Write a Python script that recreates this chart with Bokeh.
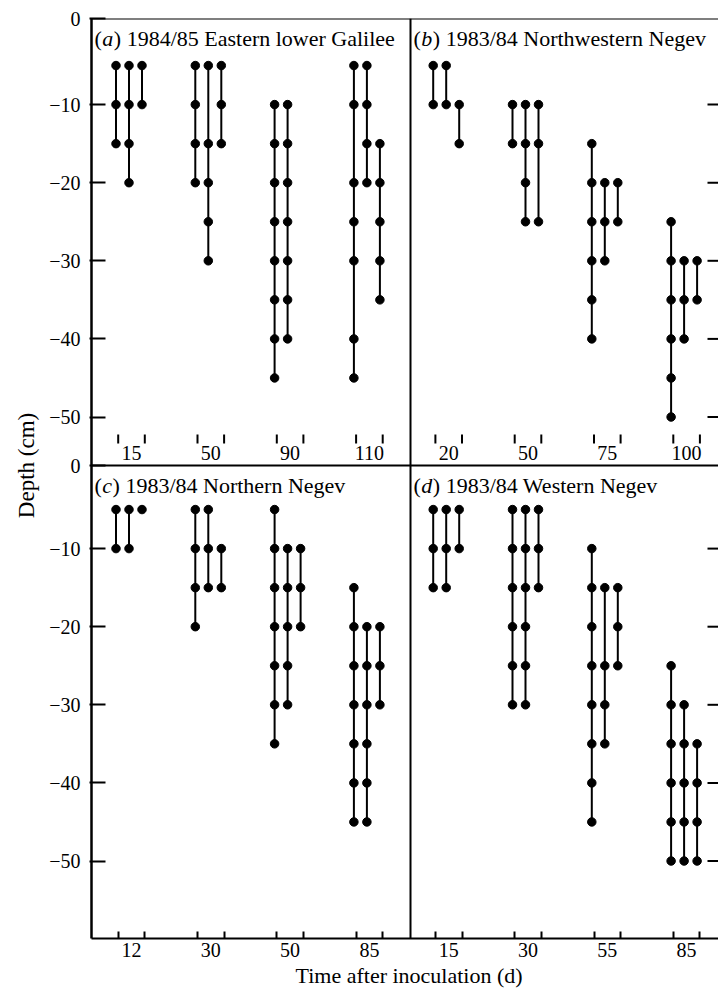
from bokeh.plotting import figure
from bokeh.models import FixedTicker, Span, Title, ColumnDataSource
from bokeh.core.properties import value
from bokeh.embed import file_html
from bokeh.resources import INLINE

# ---------------- data (depth in cm of each sampled point, per profile) ----------------
a_title = ["a", "1984/85 Eastern lower Galilee"]
a_days = [15, 50, 90, 110]
a_profiles = [
    [[-5, -10, -15], [-5, -10, -15, -20], [-5, -10]],
    [[-5, -10, -15, -20], [-5, -15, -20, -25, -30], [-5, -10, -15]],
    [[-10, -15, -20, -25, -30, -35, -40, -45], [-10, -15, -20, -25, -30, -35, -40]],
    [[-5, -10, -20, -25, -30, -40, -45], [-5, -10, -15, -20], [-15, -20, -25, -30, -35]],
]

b_title = ["b", "1983/84 Northwestern Negev"]
b_days = [20, 50, 75, 100]
b_profiles = [
    [[-5, -10], [-5, -10], [-10, -15]],
    [[-10, -15], [-10, -15, -20, -25], [-10, -15, -25]],
    [[-15, -20, -25, -30, -35, -40], [-20, -25, -30], [-20, -25]],
    [[-25, -30, -35, -40, -45, -50], [-30, -35, -40], [-30, -35]],
]

c_title = ["c", "1983/84 Northern Negev"]
c_days = [12, 30, 50, 85]
c_profiles = [
    [[-5, -10], [-5, -10], [-5]],
    [[-5, -10, -15, -20], [-5, -10, -15], [-10, -15]],
    [[-5, -10, -15, -20, -25, -30, -35], [-10, -15, -20, -25, -30], [-10, -15, -20]],
    [[-15, -20, -25, -30, -35, -40, -45], [-20, -25, -30, -35, -40, -45], [-20, -25, -30]],
]

d_title = ["d", "1983/84 Western Negev"]
d_days = [15, 30, 55, 85]
d_profiles = [
    [[-5, -10, -15], [-5, -10, -15], [-5, -10]],
    [[-5, -10, -15, -20, -25, -30], [-5, -10, -15, -20, -25, -30], [-5, -10, -15]],
    [[-10, -15, -20, -25, -30, -35, -40, -45], [-15, -25, -30, -35], [-15, -20, -25]],
    [[-25, -30, -35, -40, -45, -50], [-30, -35, -40, -45, -50], [-35, -40, -45, -50]],
]

depth_ticks = [-10, -20, -30, -40, -50]
y_title = "Depth (cm)"
x_title = "Time after inoculation (d)"

# ---------------- layout helpers ----------------
FONT = "Liberation Serif"
SX = 79.3          # px per group
SY = 7.81          # px per cm
FRAME_L, FRAME_T = 91, 18
FRAME_W, FRAME_H = 627, 920
WIDTH, HEIGHT = 718, 992
X_START = -40 / SX
X_END = X_START + FRAME_W / SX
Y_TOP = 8 / SY
Y_BOT = Y_TOP - FRAME_H / SY


def xw(px):
    return X_START + (px - FRAME_L) / SX


def yw(py):
    return Y_TOP - (py - FRAME_T) / SY


ROW_ZERO = [0.0, yw(470)]
ROW_TOP = [Y_TOP, yw(465)]
X_DIV = xw(410)
Y_DIV = yw(465)
COL_LEFT = [X_START, X_DIV]
PROFILE_OFF = [-15.5 / SX, -2.5 / SX, 10.5 / SX]
EDGE = 13.3 / SX

panels = [
    (a_title, a_days, a_profiles, 0, 0),
    (b_title, b_days, b_profiles, 0, 1),
    (c_title, c_days, c_profiles, 1, 0),
    (d_title, d_days, d_profiles, 1, 1),
]

seg = dict(x=[], y0=[], y1=[])
dots = dict(x=[], y=[])
for title, days, profiles, row, col in panels:
    for g, group in enumerate(profiles):
        gx = col * 4 + g
        for j, depths in enumerate(group):
            x = gx + PROFILE_OFF[j]
            ys = [ROW_ZERO[row] + d for d in depths]
            seg["x"].append(x)
            seg["y0"].append(max(ys))
            seg["y1"].append(min(ys))
            for y in ys:
                dots["x"].append(x)
                dots["y"].append(y)

p = figure(width=WIDTH, height=HEIGHT, x_range=(X_START, X_END), y_range=(Y_BOT, Y_TOP),
           min_border_left=FRAME_L, min_border_right=0, min_border_top=FRAME_T,
           min_border_bottom=HEIGHT - FRAME_T - FRAME_H,
           output_backend="svg", toolbar_location=None, outline_line_color=None,
           background_fill_color="white", border_fill_color="white")
p.grid.visible = False

p.segment(x0="x", y0="y0", x1="x", y1="y1", source=ColumnDataSource(seg),
          line_color="black", line_width=2)
p.scatter(x="x", y="y", source=ColumnDataSource(dots), marker="circle", size=8.5,
          fill_color="black", line_color="black")

# frame lines
for loc, dim in [(Y_TOP, "width"), (Y_DIV, "width"), (X_DIV, "height")]:
    p.add_layout(Span(location=loc, dimension=dim, line_color="black", line_width=2))

# left axis (both rows)
yt, ylab = [], {}
for r in range(2):
    t0 = round(ROW_TOP[r] - (0.005 if r == 0 else 0), 4)
    yt.append(t0)
    ylab[t0] = "0"
    for d in depth_ticks:
        t = round(ROW_ZERO[r] + d, 4)
        yt.append(t)
        ylab[t] = "\u2212" + str(-d)
yax = p.yaxis[0]
yax.ticker = FixedTicker(ticks=yt)
yax.major_label_overrides = ylab
yax.major_tick_in = 14
yax.major_tick_out = 2
yax.major_tick_line_width = 2
yax.minor_tick_line_color = None
yax.axis_line_width = 2.5
yax.major_label_standoff = 9
yax.major_label_text_font = FONT
yax.major_label_text_font_size = "20px"
yax.major_label_text_color = "black"

# bottom axis (bottom row)
xt = list(range(8))
xminor = []
xlab = {}
for title, days, profiles, row, col in panels:
    if row == 1:
        for g, day in enumerate(days):
            gx = col * 4 + g
            xlab[gx] = str(day)
            xminor += [gx - EDGE, gx + EDGE]
xax = p.xaxis[0]
xax.ticker = FixedTicker(ticks=xt, minor_ticks=xminor)
xax.major_label_overrides = xlab
xax.major_tick_line_color = None
xax.major_tick_in = 0
xax.major_tick_out = 0
xax.minor_tick_in = 7
xax.minor_tick_out = 0
xax.minor_tick_line_width = 2
xax.axis_line_width = 2
xax.major_label_standoff = 4
xax.major_label_text_font = FONT
xax.major_label_text_font_size = "20px"
xax.major_label_text_color = "black"

# floating time axis inside top row
tk = dict(x=[], y0=[], y1=[])
tl = dict(x=[], y=[], t=[])
for title, days, profiles, row, col in panels:
    if row == 0:
        for g, day in enumerate(days):
            gx = col * 4 + g
            for e in (-EDGE, EDGE):
                tk["x"].append(gx + e)
                tk["y0"].append(yw(434))
                tk["y1"].append(yw(443))
            tl["x"].append(gx)
            tl["y"].append(yw(452))
            tl["t"].append(str(day))
p.segment(x0="x", y0="y0", x1="x", y1="y1", source=ColumnDataSource(tk),
          line_color="black", line_width=2)
p.text(x="x", y="y", text="t", source=ColumnDataSource(tl), text_font=value(FONT),
       text_font_size="20px", text_align="center", text_baseline="middle", text_color="black")

# right-edge ticks (right column)
rt = dict(x0=[], x1=[], y=[])
for r in range(2):
    for d in depth_ticks:
        rt["x0"].append(X_END - 11 / SX)
        rt["x1"].append(X_END)
        rt["y"].append(ROW_ZERO[r] + d)
p.segment(x0="x0", y0="y", x1="x1", y1="y", source=ColumnDataSource(rt),
          line_color="black", line_width=2)

# panel titles: "(" + italic letter + ") rest"
FS = 22
w_paren = 0.333 * FS
w_ital = {"a": 0.5, "b": 0.5, "c": 0.444, "d": 0.5}
norm = dict(x=[], y=[], t=[], o=[])
ital = dict(x=[], y=[], t=[], o=[])
for title, days, profiles, row, col in panels:
    letter, rest = title
    x0 = COL_LEFT[col]
    ty = ROW_TOP[row] - 20 / SY
    norm["x"] += [x0, x0]
    norm["y"] += [ty, ty]
    norm["t"] += ["(", ") " + rest]
    norm["o"] += [3, 3 + w_paren + w_ital[letter] * FS + 1]
    ital["x"].append(x0)
    ital["y"].append(ty)
    ital["t"].append(letter)
    ital["o"].append(3 + w_paren + 0.5)
p.text(x="x", y="y", text="t", x_offset="o", source=ColumnDataSource(norm),
       text_font=value(FONT), text_font_size=f"{FS}px", text_align="left",
       text_baseline="middle", text_color="black")
p.text(x="x", y="y", text="t", x_offset="o", source=ColumnDataSource(ital),
       text_font=value(FONT), text_font_size=f"{FS}px", text_font_style="italic",
       text_align="left", text_baseline="middle", text_color="black")

# axis titles as side titles (positioned along the frame by offset)
TS = 22
YS = 23
x_title_w = 10.36 * TS
y_title_w = 4.58 * YS
p.add_layout(Title(text=x_title, align="left", offset=409 - x_title_w / 2 - FRAME_L,
                   standoff=2, text_font=FONT, text_font_size=f"{TS}px",
                   text_font_style="normal", text_color="black"), "below")
p.add_layout(Title(text=y_title, align="left",
                   offset=(FRAME_T + FRAME_H) - (465 + y_title_w / 2),
                   standoff=16, text_font=FONT, text_font_size=f"{YS}px",
                   text_font_style="normal", text_color="black"), "left")

open("out.html", "w").write(file_html(p, INLINE))
